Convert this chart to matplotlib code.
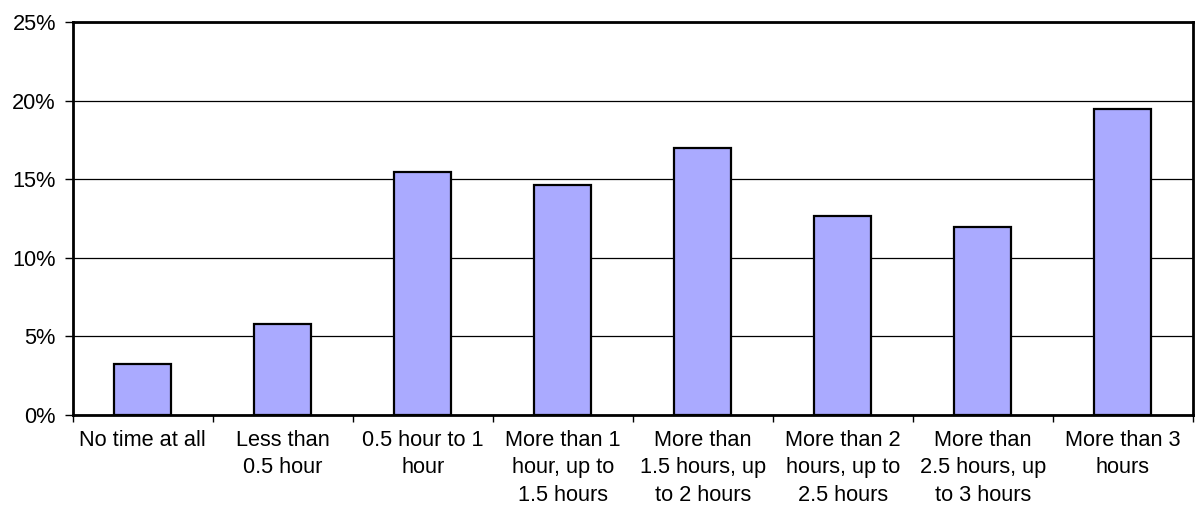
import matplotlib.pyplot as plt
from matplotlib.ticker import FuncFormatter

plt.rcParams["font.family"] = ["Liberation Sans", "DejaVu Sans"]

categories = [
    "No time at all",
    "Less than\n0.5 hour",
    "0.5 hour to 1\nhour",
    "More than 1\nhour, up to\n1.5 hours",
    "More than\n1.5 hours, up\nto 2 hours",
    "More than 2\nhours, up to\n2.5 hours",
    "More than\n2.5 hours, up\nto 3 hours",
    "More than 3\nhours",
]
shares = [3.22, 5.76, 15.46, 14.62, 16.96, 12.64, 11.96, 19.44]
y_ticks = [0, 5, 10, 15, 20, 25]


def main():
    fig = plt.figure(figsize=(11.97, 5.07), dpi=100)
    ax = fig.add_axes([0.0607, 0.1824, 0.9357, 0.7742])

    x = range(len(categories))
    ax.bar(x, shares, width=0.41, color="#AAAAFF", edgecolor="black",
           linewidth=1.6, zorder=3)

    ax.set_xlim(-0.5, len(categories) - 0.5)
    ax.set_ylim(0, 25)
    ax.set_yticks(y_ticks)
    ax.yaxis.set_major_formatter(FuncFormatter(lambda v, p: f"{v:.0f}%"))
    ax.yaxis.grid(True, color="black", linewidth=0.9, zorder=0)

    # category labels centred, ticks on the boundaries
    ax.set_xticks([i - 0.5 for i in range(len(categories) + 1)])
    ax.set_xticklabels([])
    ax.set_xticks(list(x), minor=True)
    ax.set_xticklabels(categories, minor=True, fontsize=15.7, linespacing=1.4,
                       va="top")
    ax.tick_params(axis="x", which="minor", length=0, pad=11)
    ax.tick_params(axis="x", which="major", length=5, width=1, direction="out")
    ax.tick_params(axis="y", length=6, width=1, labelsize=15.7, pad=6)

    for side in ax.spines.values():
        side.set_linewidth(2)
        side.set_color("black")

    fig.savefig("out.png", dpi=100)


if __name__ == "__main__":
    main()
